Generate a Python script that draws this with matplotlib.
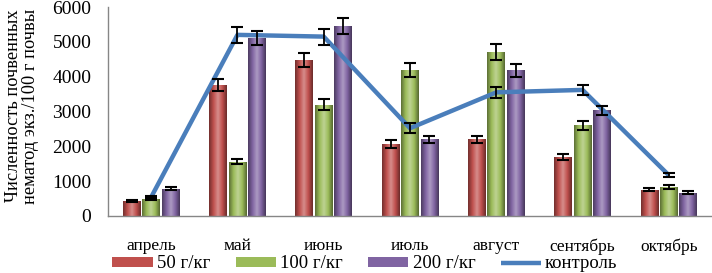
import numpy as np
import matplotlib
matplotlib.use("Agg")
import matplotlib.pyplot as plt
from matplotlib.colors import LinearSegmentedColormap, to_rgb

plt.rcParams['font.family'] = ['Liberation Serif', 'DejaVu Serif']

months = ['апрель', 'май', 'июнь', 'июль', 'август', 'сентябрь', 'октябрь']

# values
dose50 = [430, 3760, 4480, 2060, 2200, 1690, 750]
dose50_err = [30, 180, 200, 110, 110, 90, 40]
dose100 = [500, 1560, 3200, 4200, 4700, 2600, 830]
dose100_err = [30, 80, 150, 200, 230, 140, 50]
dose200 = [780, 5120, 5450, 2200, 4180, 3030, 670]
dose200_err = [40, 200, 230, 110, 190, 140, 40]
control = [540, 5200, 5150, 2520, 3550, 3620, 1170]
control_err = [30, 240, 230, 140, 160, 150, 60]

series = [
    ('50 г/кг', dose50, dose50_err, '#c0504d'),
    ('100 г/кг', dose100, dose100_err, '#9bbb59'),
    ('200 г/кг', dose200, dose200_err, '#8064a2'),
]

fig = plt.figure(figsize=(7.12, 2.73), dpi=100)
ax = fig.add_axes([108 / 712, 1 - 216 / 273, 1 - 108 / 712, 209 / 273])

x = np.arange(len(months))
width = 0.205
offsets = [-0.225, 0, 0.225]


def shade(c, f):
    r, g, b = to_rgb(c)
    if f < 1:
        return (r * f, g * f, b * f)
    f = f - 1
    return (r + (1 - r) * f, g + (1 - g) * f, b + (1 - b) * f)


handles = []
for (label, vals, errs, color), off in zip(series, offsets):
    bars = ax.bar(x + off, vals, width, color=color, zorder=2, label=label)
    # cylinder-like shading, clipped to each bar
    cmap = LinearSegmentedColormap.from_list(
        'g', [shade(color, 0.6), shade(color, 1.0), shade(color, 1.35),
              shade(color, 1.0), shade(color, 0.55)])
    grad = np.linspace(0, 1, 64).reshape(1, -1)
    for b in bars:
        x0, y0 = b.get_x(), b.get_y()
        im = ax.imshow(grad, cmap=cmap, aspect='auto', zorder=2.1,
                       extent=[x0, x0 + b.get_width(), y0, y0 + b.get_height()])
        im.set_clip_path(b)
    ax.errorbar(x + off, vals, yerr=errs, fmt='none', ecolor='black',
                elinewidth=1.3, capsize=4, capthick=1.5, zorder=4)
    handles.append(bars)

line, = ax.plot(x, control, color='#4a7ebb', lw=3.2, zorder=3,
                label='контроль', solid_capstyle='butt')
ax.errorbar(x, control, yerr=control_err, fmt='none', ecolor='black',
            elinewidth=1.3, capsize=4, capthick=1.5, zorder=4)

ax.set_xlim(-0.5, 6.5)
ax.set_ylim(0, 6000)
ax.set_yticks(range(0, 6001, 1000))
ax.set_xticks(x)
ax.set_xticklabels(months, fontsize=12.5)
ax.tick_params(axis='x', length=0, pad=16)
ax.tick_params(axis='y', length=0, pad=12, labelsize=14)
for s in ['top', 'right']:
    ax.spines[s].set_visible(False)
for s in ['left', 'bottom']:
    ax.spines[s].set_color('#868686')
    ax.spines[s].set_linewidth(1)

fig.text(22 / 712, 1 - 106 / 273,
         'Численность почвенных\nнематод экз./100 г почвы',
         rotation=90, ha='center', va='center', fontsize=13.2,
         multialignment='center', linespacing=1.0)

fig.legend(handles + [line], ['50 г/кг', '100 г/кг', '200 г/кг', 'контроль'],
           loc='center', bbox_to_anchor=(365 / 712, 1 - 264 / 273), ncol=4,
           frameon=False, fontsize=13.5, handlelength=2.15, handleheight=0.45,
           columnspacing=1.35, handletextpad=0.22, borderpad=0)

fig.savefig('out.png', dpi=100)
